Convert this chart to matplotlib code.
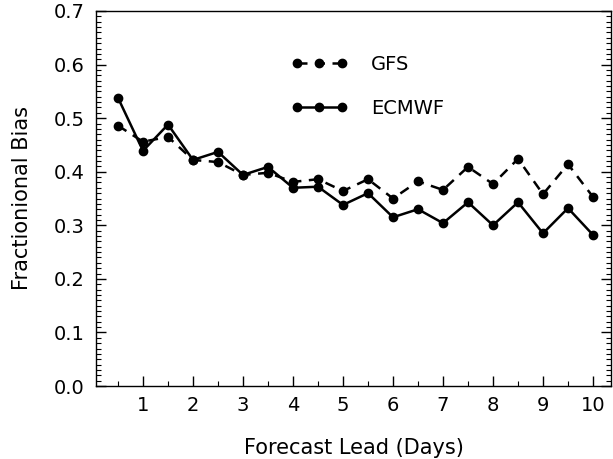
import numpy as np
import matplotlib.pyplot as plt
from matplotlib.ticker import MultipleLocator

# forecast lead in days (every 12 h)
lead = [0.5, 1.0, 1.5, 2.0, 2.5, 3.0, 3.5, 4.0, 4.5, 5.0,
        5.5, 6.0, 6.5, 7.0, 7.5, 8.0, 8.5, 9.0, 9.5, 10.0]

gfs = [0.486, 0.456, 0.465, 0.422, 0.418, 0.394, 0.398, 0.381, 0.386, 0.364,
       0.386, 0.350, 0.382, 0.366, 0.409, 0.377, 0.424, 0.358, 0.414, 0.353]

ecmwf = [0.538, 0.439, 0.488, 0.422, 0.437, 0.394, 0.409, 0.370, 0.372, 0.338,
         0.360, 0.315, 0.330, 0.304, 0.343, 0.300, 0.343, 0.285, 0.332, 0.282]

plt.rcParams['font.family'] = 'DejaVu Sans'

fig = plt.figure(figsize=(6.13, 4.59), dpi=100)
ax = fig.add_axes([96/613, 1 - 386/459, 515/613, 375/459])

ax.plot(lead, gfs, color='black', linestyle=(0, (4, 3)), linewidth=1.8,
        marker='o', markersize=6, label='GFS')
ax.plot(lead, ecmwf, color='black', linestyle='-', linewidth=1.8,
        marker='o', markersize=6, label='ECMWF')

ax.set_xlim(0.06, 10.36)
ax.set_ylim(0.0, 0.7)

ax.xaxis.set_major_locator(MultipleLocator(1))
ax.xaxis.set_minor_locator(MultipleLocator(0.5))
ax.yaxis.set_minor_locator(MultipleLocator(0.01))
ax.set_yticks(np.arange(0, 0.71, 0.1))
ax.set_yticklabels(['%.1f' % v for v in np.arange(0, 0.71, 0.1)])

ax.tick_params(which='both', direction='in', top=False, right=True,
               labelsize=14, color='black', pad=8)
ax.tick_params(which='major', length=7, width=1)
ax.tick_params(which='minor', length=3.5, width=0.8)
ax.tick_params(axis='x', which='major', pad=7)

for s in ax.spines.values():
    s.set_linewidth(1.0)

ax.set_xlabel('Forecast Lead (Days)', fontsize=15, labelpad=17)
ax.set_ylabel('Fractionional Bias', fontsize=15, labelpad=16)

leg = ax.legend(loc='upper left', bbox_to_anchor=(0.345, 0.93), frameon=False,
                numpoints=3, handlelength=2.9, handletextpad=1.2,
                labelspacing=1.3, fontsize=14)

fig.savefig('out.png', dpi=100)
